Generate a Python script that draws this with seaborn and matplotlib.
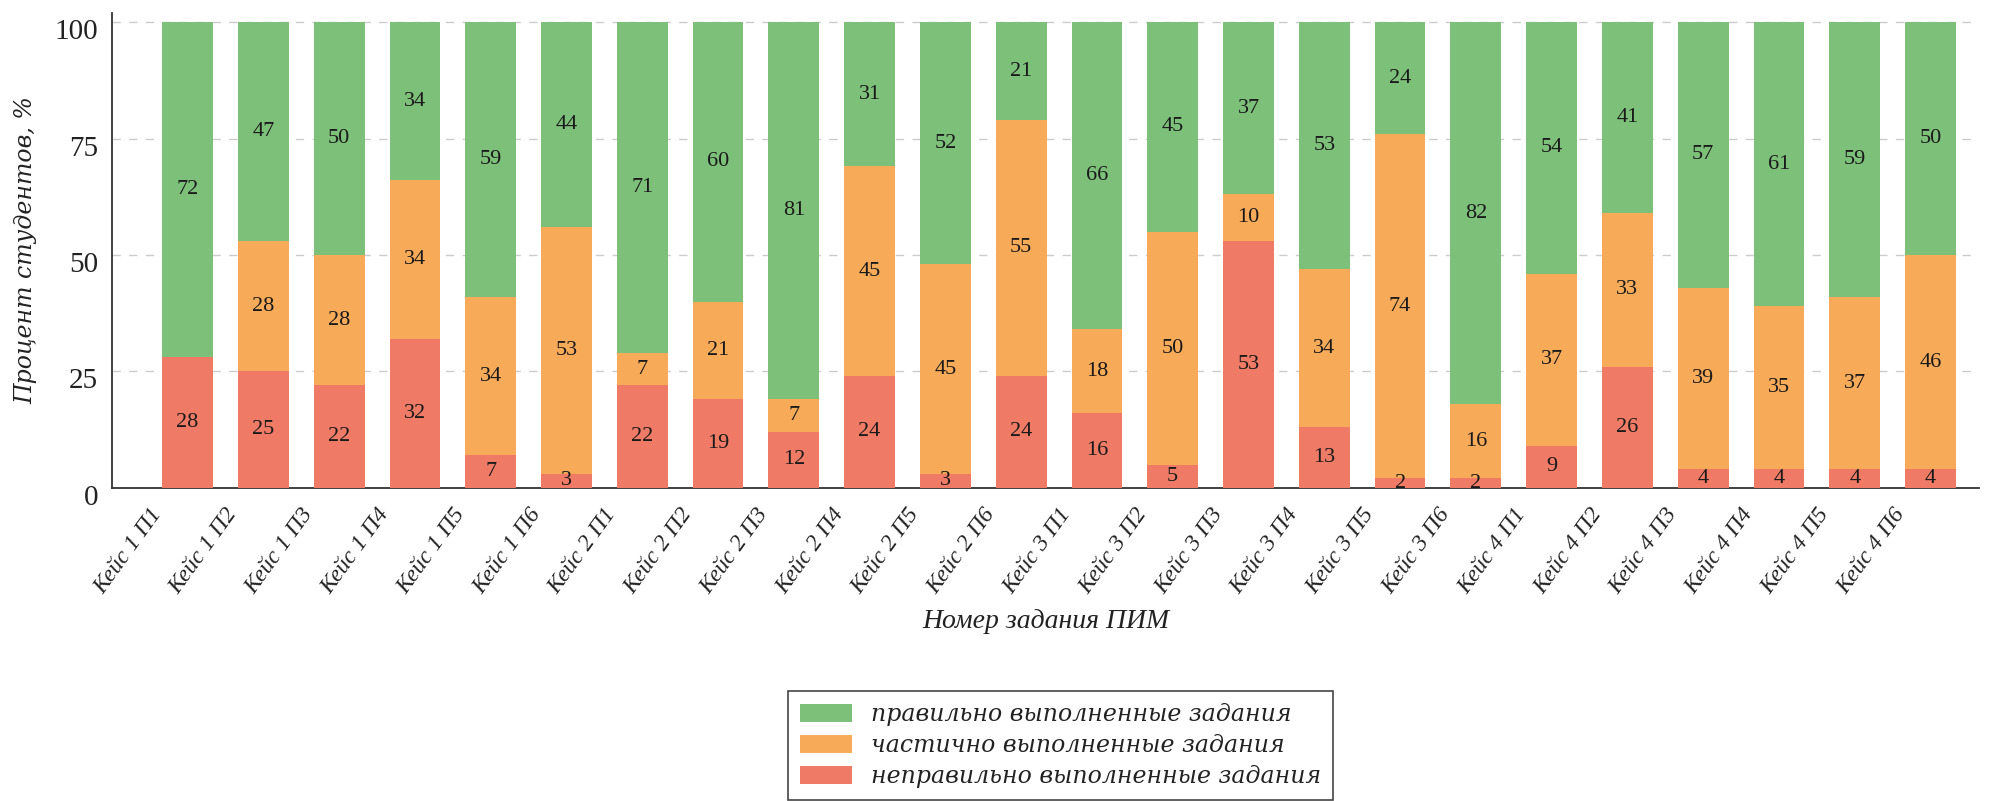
import matplotlib
matplotlib.use("Agg")
import matplotlib.pyplot as plt
import matplotlib.transforms as mtransforms
from matplotlib.patches import Patch
import seaborn as sns
import pandas as pd

categories = ["Кейс 1 П1", "Кейс 1 П2", "Кейс 1 П3", "Кейс 1 П4", "Кейс 1 П5", "Кейс 1 П6",
              "Кейс 2 П1", "Кейс 2 П2", "Кейс 2 П3", "Кейс 2 П4", "Кейс 2 П5", "Кейс 2 П6",
              "Кейс 3 П1", "Кейс 3 П2", "Кейс 3 П3", "Кейс 3 П4", "Кейс 3 П5", "Кейс 3 П6",
              "Кейс 4 П1", "Кейс 4 П2", "Кейс 4 П3", "Кейс 4 П4", "Кейс 4 П5", "Кейс 4 П6"]
wrong = [28, 25, 22, 32, 7, 3, 22, 19, 12, 24, 3, 24, 16, 5, 53, 13, 2, 2, 9, 26, 4, 4, 4, 4]
partial = [0, 28, 28, 34, 34, 53, 7, 21, 7, 45, 45, 55, 18, 50, 10, 34, 74, 16, 37, 33, 39, 35, 37, 46]
correct = [72, 47, 50, 34, 59, 44, 71, 60, 81, 31, 52, 21, 66, 45, 37, 53, 24, 82, 54, 41, 57, 61, 59, 50]
yticks = [0, 25, 50, 75, 100]
legend_labels = ["правильно выполненные задания", "частично выполненные задания",
                 "неправильно выполненные задания"]
xlabel = "Номер задания ПИМ"
ylabel = "Процент студентов, %"

c_green = "#7dc07a"
c_orange = "#f7aa58"
c_red = "#ef7a65"

sns.set_theme(style="white")

df = pd.DataFrame({"cat": categories, "wrong": wrong, "partial": partial, "correct": correct})
df["lvl2"] = df["wrong"] + df["partial"]
df["lvl3"] = df["lvl2"] + df["correct"]

fig = plt.figure(figsize=(19.97, 8.01), dpi=100)
ax = fig.add_axes([0.056, 0.391, 0.935, 0.593])

bar_kw = dict(width=0.67, saturation=1, ax=ax, linewidth=0, edgecolor="none")
sns.barplot(data=df, x="cat", y="lvl3", color=c_green, zorder=2, **bar_kw)
sns.barplot(data=df, x="cat", y="lvl2", color=c_orange, zorder=3, **bar_kw)
sns.barplot(data=df, x="cat", y="wrong", color=c_red, zorder=4, **bar_kw)

num_font = dict(family="Liberation Serif", fontsize=16, color="#1a1a1a")
for i, row in df.iterrows():
    if row["wrong"] > 0:
        ax.text(i, row["wrong"] / 2, f"{row['wrong']}", ha="center", va="center", zorder=6, **num_font)
    if row["partial"] > 0:
        ax.text(i, row["wrong"] + row["partial"] / 2, f"{row['partial']}", ha="center", va="center", zorder=6, **num_font)
    if row["correct"] > 0:
        ax.text(i, row["lvl2"] + row["correct"] / 2, f"{row['correct']}", ha="center", va="center", zorder=6, **num_font)

ax.set_xlim(-1.0, len(categories) - 0.36)
ax.set_ylim(0, 102)
ax.set_yticks(yticks)
ax.set_yticklabels([str(t) for t in yticks], family="Liberation Serif", fontsize=21, color="#222222")
ax.yaxis.grid(True, linestyle=(0, (6, 6)), color="#cccccc", linewidth=1.0, zorder=0)
ax.xaxis.grid(False)
ax.set_axisbelow(True)
ax.tick_params(axis="y", length=0, pad=10)
ax.tick_params(axis="x", length=0, pad=6)

ax.set_xticks(range(len(categories)))
ax.set_xticklabels(categories, rotation=54, ha="right", va="center", rotation_mode="anchor",
                   family="Liberation Serif", style="italic", fontsize=17, color="#222222")
off = mtransforms.ScaledTranslation(-30 / 100, -14 / 100, fig.dpi_scale_trans)
for lab in ax.get_xticklabels():
    lab.set_transform(lab.get_transform() + off)
offy = mtransforms.ScaledTranslation(0, -7 / 100, fig.dpi_scale_trans)
for lab in ax.get_yticklabels():
    lab.set_transform(lab.get_transform() + offy)

ax.set_xlabel(xlabel, family="Liberation Serif", style="italic", fontsize=20, color="#222222", labelpad=8)
ax.set_ylabel(ylabel, family="DejaVu Serif", style="italic", fontsize=17, color="#222222", labelpad=12)

for s in ["top", "right"]:
    ax.spines[s].set_visible(False)
for s in ["left", "bottom"]:
    ax.spines[s].set_color("#333333")
    ax.spines[s].set_linewidth(1.3)

handles = [Patch(facecolor=c_green, edgecolor="none"),
           Patch(facecolor=c_orange, edgecolor="none"),
           Patch(facecolor=c_red, edgecolor="none")]
leg = fig.legend(handles, legend_labels, loc="center", bbox_to_anchor=(0.531, 0.069),
                 prop=dict(family="DejaVu Serif", style="italic", size=17),
                 frameon=True, fancybox=False, edgecolor="#444444", framealpha=1,
                 handlelength=2.2, handleheight=0.8, labelspacing=0.35, borderpad=0.5)
leg.get_frame().set_linewidth(1.2)
for t in leg.get_texts():
    t.set_color("#222222")

fig.savefig("out.png", dpi=100)
